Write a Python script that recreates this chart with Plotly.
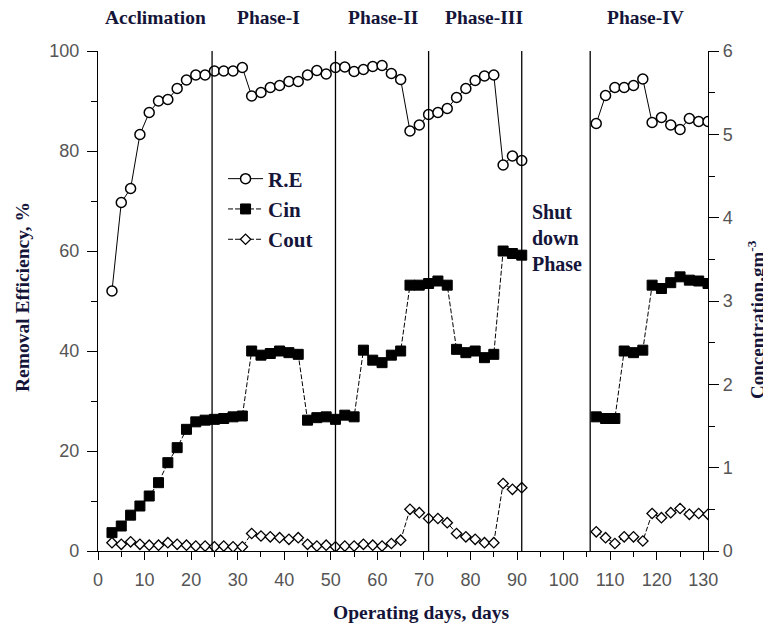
import plotly.graph_objects as go

# ---------------- data ----------------
days = [3, 5, 7, 9, 11, 13, 15, 17, 19, 21, 23, 25, 27, 29, 31, 33, 35, 37, 39, 41,
        43, 45, 47, 49, 51, 53, 55, 57, 59, 61, 63, 65, 67, 69, 71, 73, 75, 77, 79, 81,
        83, 85, 87, 89, 91, 107, 109, 111, 113, 115, 117, 119, 121, 123, 125, 127, 129, 131]

removal_eff = [52.0, 69.7, 72.5, 83.3, 87.7, 90.0, 90.3, 92.5, 94.2, 95.2, 95.2, 96.0, 96.0, 96.0, 96.7,
               91.0, 91.7, 92.7, 93.1, 93.9, 93.9, 95.2, 96.1, 95.4, 96.7, 96.8, 95.9, 96.3, 96.9, 97.1,
               95.5, 94.3, 84.0, 85.2, 87.3, 87.7, 88.5, 90.7, 92.5, 94.1, 95.0, 95.2, 77.2, 79.0, 78.1,
               85.5, 91.1, 92.7, 92.7, 93.1, 94.4, 85.7, 86.7, 85.2, 84.3, 86.5, 85.9, 85.9]

c_in = [0.22, 0.30, 0.43, 0.54, 0.66, 0.82, 1.06, 1.24, 1.46, 1.55, 1.57, 1.58, 1.59, 1.61, 1.62,
        2.40, 2.35, 2.37, 2.40, 2.38, 2.36, 1.57, 1.60, 1.61, 1.58, 1.63, 1.61, 2.41, 2.29, 2.26,
        2.35, 2.40, 3.19, 3.19, 3.21, 3.24, 3.19, 2.42, 2.38, 2.40, 2.32, 2.36, 3.60, 3.57, 3.55,
        1.61, 1.59, 1.59, 2.40, 2.38, 2.41, 3.19, 3.15, 3.22, 3.29, 3.25, 3.24, 3.21]

c_out = [0.10, 0.08, 0.11, 0.08, 0.07, 0.07, 0.10, 0.08, 0.07, 0.06, 0.06, 0.05, 0.06, 0.05, 0.05,
         0.21, 0.18, 0.17, 0.16, 0.14, 0.16, 0.08, 0.06, 0.07, 0.05, 0.06, 0.06, 0.08, 0.07, 0.06,
         0.09, 0.13, 0.50, 0.46, 0.39, 0.39, 0.34, 0.21, 0.17, 0.14, 0.10, 0.10, 0.81, 0.74, 0.76,
         0.23, 0.16, 0.09, 0.17, 0.17, 0.12, 0.45, 0.40, 0.46, 0.51, 0.44, 0.45, 0.44]

phase_bounds = [24.5, 51, 71, 91, 105.7]
phase_names = ["Acclimation", "Phase-I", "Phase-II", "Phase-III", "Phase-IV"]
phase_label_x = [12.4, 36.6, 61.2, 82.9, 117.5]
shutdown_label = "Shut<br>down<br>Phase"
shutdown_x = 92.7

x_title = "Operating days, days"
y_title = "Removal Efficiency, %"
y2_title = "Concentration,gm<sup>-3</sup>"


def with_gaps(xs, ys, max_step=2):
    """insert None where sampling stops (shut-down phase) so lines break."""
    gx, gy = [], []
    for i, (a, b) in enumerate(zip(xs, ys)):
        if i > 0 and a - xs[i - 1] > max_step:
            gx.append(None)
            gy.append(None)
        gx.append(a)
        gy.append(b)
    return gx, gy


TXT = "#15153a"
SERIF = "Liberation Serif"
SANS = "Liberation Sans"

fig = go.Figure()

x_re, y_re = with_gaps(days, removal_eff)
x_ci, y_ci = with_gaps(days, c_in)
x_co, y_co = with_gaps(days, c_out)

fig.add_trace(go.Scatter(
    x=x_re, y=y_re, name="R.E", mode="lines+markers",
    line=dict(color="black", width=1),
    marker=dict(symbol="circle", size=10, color="white", line=dict(color="black", width=1.5)),
    yaxis="y"))
fig.add_trace(go.Scatter(
    x=x_ci, y=y_ci, name="Cin", mode="lines+markers",
    line=dict(color="black", width=1, dash="5px,2px"),
    marker=dict(symbol="square", size=10, color="black", line=dict(color="black", width=1)),
    yaxis="y2"))
fig.add_trace(go.Scatter(
    x=x_co, y=y_co, name="Cout", mode="lines+markers",
    line=dict(color="black", width=1, dash="5px,2px"),
    marker=dict(symbol="diamond", size=8, color="white", line=dict(color="black", width=1.3)),
    yaxis="y2"))

for b in phase_bounds:
    fig.add_shape(type="line", xref="x", yref="paper", x0=b, x1=b, y0=0, y1=1,
                  line=dict(color="black", width=1.3))

for name, px in zip(phase_names, phase_label_x):
    fig.add_annotation(x=px, y=1.067, xref="x", yref="paper", text=f"<b>{name}</b>",
                       showarrow=False, font=dict(family=SERIF, size=19.5, color=TXT),
                       xanchor="center", yanchor="middle")

fig.add_annotation(x=shutdown_x, y=0.626, xref="x", yref="paper", text=f"<b>{shutdown_label}</b>",
                   showarrow=False, align="left", font=dict(family=SERIF, size=20, color=TXT),
                   xanchor="left", yanchor="middle")

# axis titles as annotations (plot area spans page x 98..708, y 51..551)
fig.add_annotation(x=(421 - 98) / 610, y=-(612 - 551) / 500, xref="paper", yref="paper",
                   text=f"<b>{x_title}</b>", showarrow=False,
                   font=dict(family=SERIF, size=19.5, color=TXT), xanchor="center", yanchor="middle")
fig.add_annotation(x=-(98 - 22) / 610, y=(551 - 297) / 500, xref="paper", yref="paper",
                   text=f"<b>{y_title}</b>", showarrow=False, textangle=-90,
                   font=dict(family=SERIF, size=19.5, color=TXT), xanchor="center", yanchor="middle")
fig.add_annotation(x=(756 - 98) / 610, y=(551 - 320) / 500, xref="paper", yref="paper",
                   text=f"<b>{y2_title}</b>", showarrow=False, textangle=-90,
                   font=dict(family=SERIF, size=19, color=TXT), xanchor="center", yanchor="middle")

tickfont = dict(family=SANS, size=18, color="#555555")

# page body has an 8px margin, so the figure is 8px smaller and margins are shifted
fig.update_layout(
    width=763, height=618,
    margin=dict(l=90, r=63, t=43, b=75, autoexpand=False),
    paper_bgcolor="white", plot_bgcolor="white",
    showlegend=True,
    legend=dict(x=0.205, y=0.785, xanchor="left", yanchor="top",
                bgcolor="rgba(0,0,0,0)", borderwidth=0, itemwidth=35,
                font=dict(family=SERIF, size=21, color=TXT, weight="bold"), tracegroupgap=0),
    xaxis=dict(range=[0, 131], tick0=0, dtick=10, ticks="outside", ticklen=8, tickwidth=1.2,
               tickcolor="black", showline=True, linecolor="black", linewidth=1.2,
               showgrid=False, zeroline=False, tickfont=tickfont, ticklabelstandoff=4,
               minor=dict(dtick=5, tick0=0, ticks="outside", ticklen=5, tickwidth=1.2,
                          tickcolor="black", showgrid=False)),
    xaxis2=dict(range=[0, 131], overlaying="x", side="top", anchor="y", tick0=0, dtick=10,
                ticks="inside", ticklen=8, tickwidth=1.2, tickcolor="black",
                showticklabels=False, showline=True, linecolor="black", linewidth=1.2,
                showgrid=False, zeroline=False,
                minor=dict(dtick=5, tick0=0, ticks="inside", ticklen=5, tickwidth=1.2,
                           tickcolor="black", showgrid=False)),
    yaxis=dict(range=[0, 100], tick0=0, dtick=20, ticks="outside", ticklen=10, tickwidth=1.2,
               tickcolor="black", showline=True, linecolor="black", linewidth=1.2,
               showgrid=False, zeroline=False, tickfont=tickfont, ticklabelstandoff=4,
               minor=dict(dtick=10, tick0=0, ticks="outside", ticklen=6, tickwidth=1.2,
                          tickcolor="black", showgrid=False)),
    yaxis2=dict(range=[0, 6], overlaying="y", side="right", anchor="x", tick0=0, dtick=1,
                ticks="outside", ticklen=10, tickwidth=1.2, tickcolor="black",
                showline=True, linecolor="black", linewidth=1.2, showgrid=False,
                zeroline=False, tickfont=tickfont,
                minor=dict(dtick=0.5, tick0=0, ticks="outside", ticklen=6, tickwidth=1.2,
                           tickcolor="black", showgrid=False)),
)

fig.write_html("out.html")
